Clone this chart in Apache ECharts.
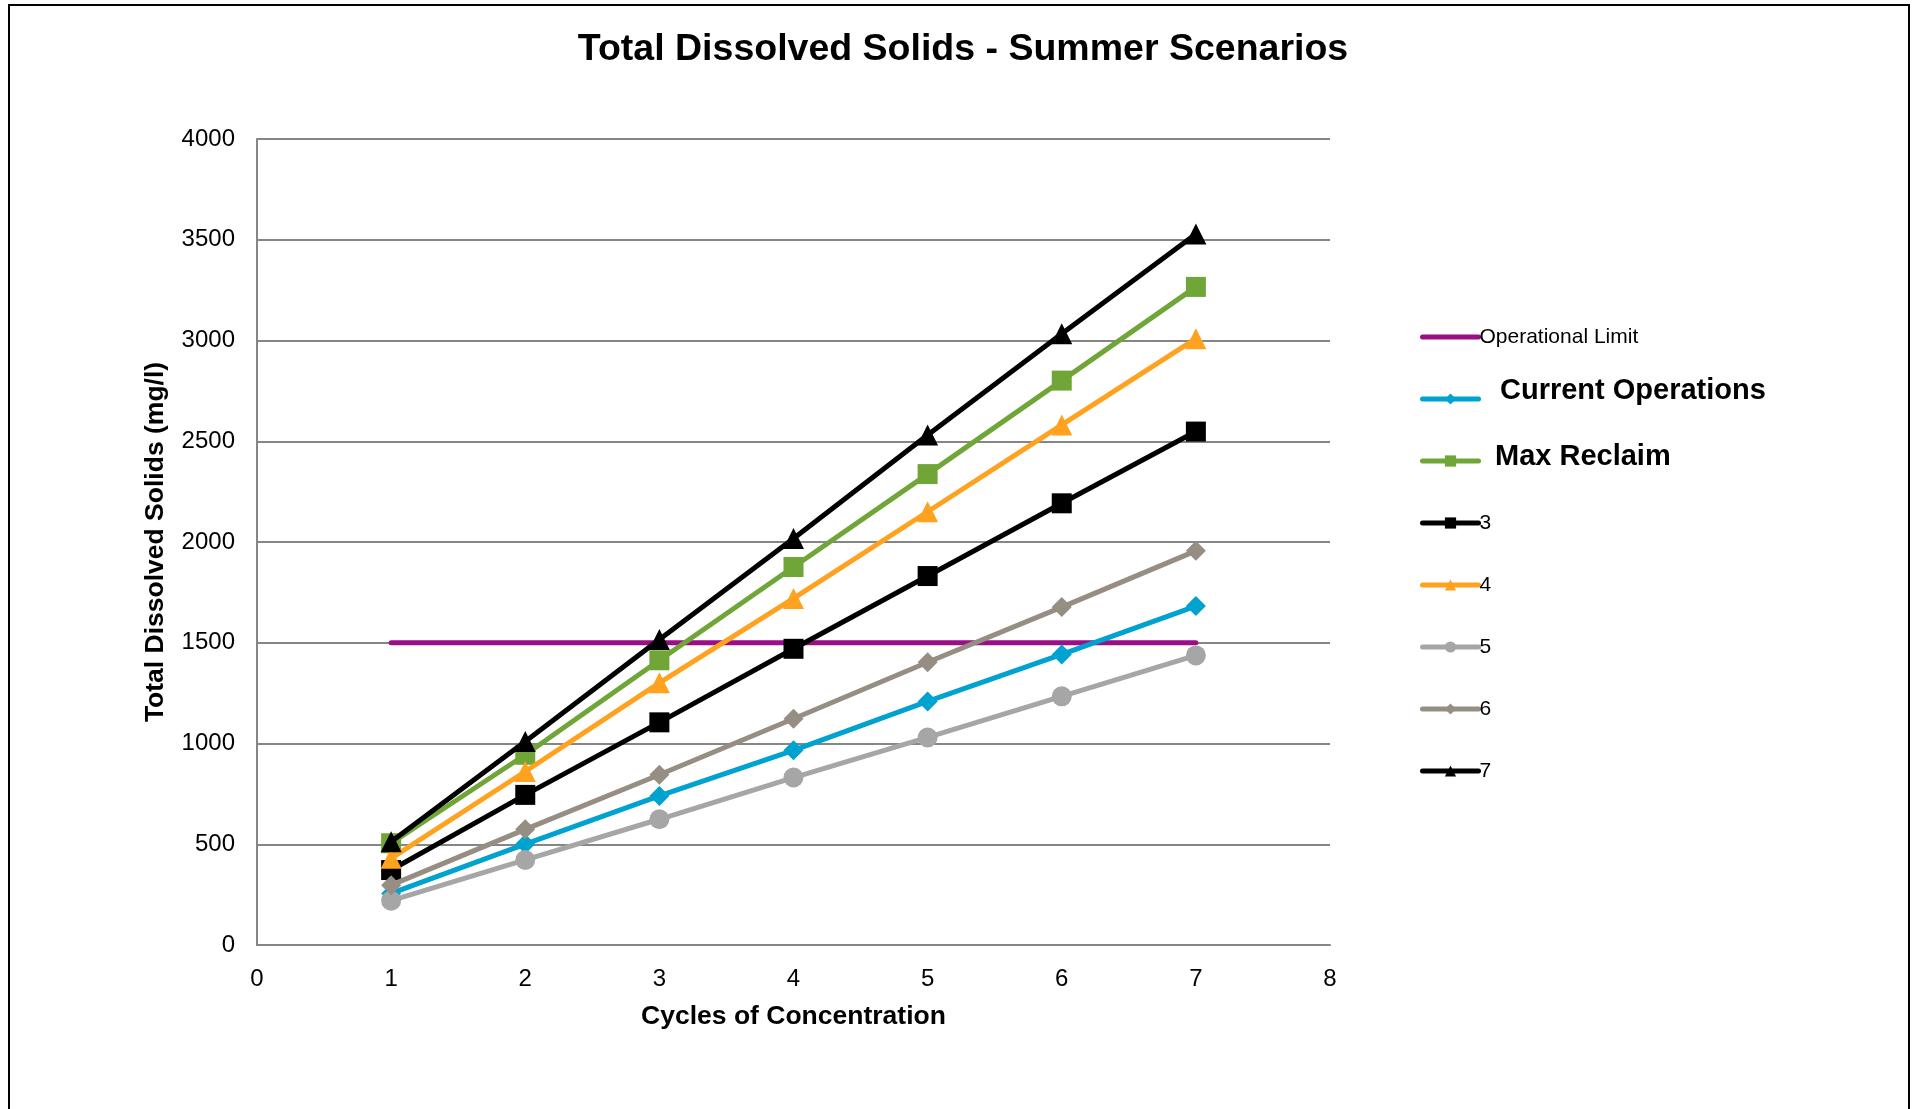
<!DOCTYPE html>
<html>
<head>
<meta charset="utf-8">
<script src="https://cdn.jsdelivr.net/npm/echarts@6/dist/echarts.min.js"></script>
<style>
html,body{margin:0;padding:0;background:#fff;}
#chart{width:1917px;height:1109px;}
</style>
</head>
<body>
<div id="chart"></div>
<script>
// ---- data ----
const cycles = [1, 2, 3, 4, 5, 6, 7];
const operationalLimit = [1500, 1500, 1500, 1500, 1500, 1500, 1500];
const currentOperations = [256, 501, 740, 966, 1209, 1442, 1682];
const maxReclaim = [505, 944, 1413, 1876, 2337, 2801, 3266];
const scenario3 = [372, 745, 1105, 1470, 1831, 2192, 2548];
const scenario4 = [430, 861, 1301, 1720, 2150, 2581, 3009];
const scenario5 = [220, 422, 624, 831, 1030, 1234, 1437];
const scenario6 = [297, 574, 845, 1123, 1403, 1677, 1956];
const scenario7 = [513, 1010, 1516, 2017, 2531, 3034, 3529];
const seriesNames = ['Operational Limit', 'Current Operations', 'Max Reclaim', '3', '4', '5', '6', '7'];
const xTicks = [0, 1, 2, 3, 4, 5, 6, 7, 8];
const yTicks = [0, 500, 1000, 1500, 2000, 2500, 3000, 3500, 4000];

const FONT = "'Liberation Sans', Arial, sans-serif";
const pair = arr => cycles.map((c, i) => [c, arr[i]]);

const styles = [
  {data: operationalLimit, color: '#9a0f88', symbol: 'none', size: 0},
  {data: currentOperations, color: '#00a2cf', symbol: 'diamond', size: 20},
  {data: maxReclaim, color: '#70a538', symbol: 'rect', size: 20},
  {data: scenario3, color: '#000000', symbol: 'rect', size: 20},
  {data: scenario4, color: '#ffa21f', symbol: 'triangle', size: 21},
  {data: scenario5, color: '#a6a6a6', symbol: 'circle', size: 20},
  {data: scenario6, color: '#968d83', symbol: 'diamond', size: 20},
  {data: scenario7, color: '#000000', symbol: 'triangle', size: 21}
];

const series = styles.map((s, i) => ({
  name: seriesNames[i],
  type: 'line',
  data: pair(s.data),
  symbol: s.symbol,
  symbolSize: s.size,
  showSymbol: s.symbol !== 'none',
  lineStyle: {color: s.color, width: 5, cap: 'round'},
  itemStyle: {color: s.color},
  animation: false,
  z: 2 + i
}));

// legend layout: icon rows, plus separate (offset) text rows for the two bold entries
const legendCenters = [337, 399, 461, 523, 585, 647, 709, 771];
const boldText = {1: {left: 1493, center: 391}, 2: {left: 1488, center: 457}};
const legends = [];
seriesNames.forEach((n, i) => {
  const bold = boldText[i] !== undefined;
  const fs = bold ? 29 : 21;
  const h = bold ? 14 : Math.max(14, fs);
  legends.push({
    data: [n],
    orient: 'vertical',
    left: 1420,
    top: legendCenters[i] - h / 2,
    padding: 0,
    itemWidth: 56,
    itemHeight: 14,
    lineStyle: {width: 5},
    itemStyle: i === 0 ? {opacity: 0} : {},
    formatter: bold ? () => '' : undefined,
    textStyle: {
      fontFamily: FONT,
      fontSize: fs,
      color: '#000',
      padding: [0, 0, 0, -4]
    }
  });
  if (bold) {
    legends.push({
      data: [n],
      orient: 'vertical',
      left: boldText[i].left,
      top: boldText[i].center - fs / 2,
      padding: 0,
      itemWidth: 1,
      itemHeight: 1,
      lineStyle: {opacity: 0},
      itemStyle: {opacity: 0},
      textStyle: {fontFamily: FONT, fontSize: fs, fontWeight: 'bold', color: '#000'}
    });
  }
});

const chart = echarts.init(document.getElementById('chart'), null, {renderer: 'canvas'});
chart.setOption({
  backgroundColor: '#ffffff',
  animation: false,
  title: {
    text: 'Total Dissolved Solids - Summer Scenarios',
    left: 958,
    textAlign: 'center',
    top: 26,
    textStyle: {fontFamily: FONT, fontSize: 37.5, fontWeight: 'bold', color: '#000'}
  },
  legend: legends,
  grid: {left: 257, right: 587, top: 139, bottom: 164, containLabel: false},
  xAxis: {
    type: 'value',
    min: xTicks[0],
    max: xTicks[xTicks.length - 1],
    interval: 1,
    name: 'Cycles of Concentration',
    nameLocation: 'middle',
    nameGap: 58,
    nameTextStyle: {fontFamily: FONT, fontSize: 26.5, fontWeight: 'bold', color: '#000'},
    axisLine: {show: true, lineStyle: {color: '#868686', width: 2}},
    axisTick: {show: false},
    splitLine: {show: false},
    axisLabel: {fontFamily: FONT, fontSize: 24, color: '#000', margin: 22, formatter: v => String(v)}
  },
  yAxis: {
    type: 'value',
    min: yTicks[0],
    max: yTicks[yTicks.length - 1],
    interval: 500,
    name: 'Total Dissolved Solids (mg/l)',
    nameLocation: 'middle',
    nameGap: 88,
    nameTextStyle: {fontFamily: FONT, fontSize: 26.5, fontWeight: 'bold', color: '#000'},
    axisLine: {show: true, lineStyle: {color: '#868686', width: 2}},
    axisTick: {show: false},
    splitLine: {show: true, lineStyle: {color: '#868686', width: 2}},
    axisLabel: {fontFamily: FONT, fontSize: 24, color: '#000', margin: 22, formatter: v => String(v)}
  },
  graphic: [{
    type: 'rect',
    shape: {x: 9, y: 5, width: 1900, height: 1200},
    style: {fill: null, stroke: '#000', lineWidth: 2},
    silent: true,
    z: -1
  }],
  series: series
});
</script>
</body>
</html>
